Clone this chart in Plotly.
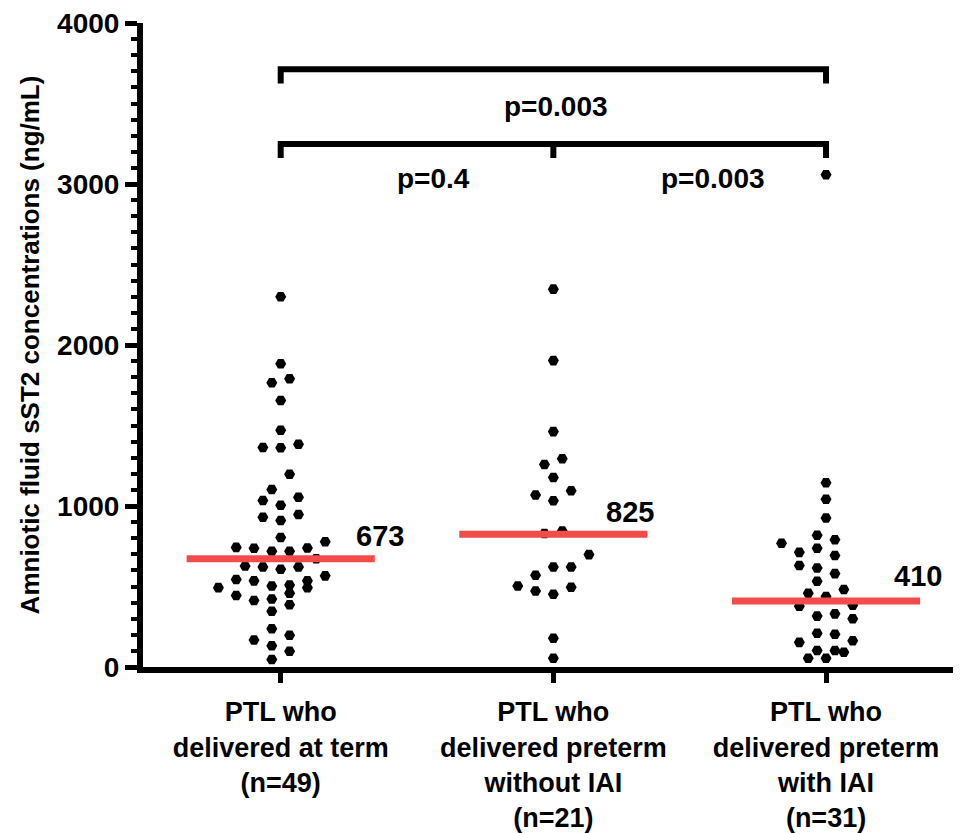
import plotly.graph_objects as go

# ---------------- data ----------------
categories = [
    "PTL who<br>delivered at term<br>(n=49)",
    "PTL who<br>delivered preterm<br>without IAI<br>(n=21)",
    "PTL who<br>delivered preterm<br>with IAI<br>(n=31)",
]
term_values = [2300, 1883, 1791, 1765, 1655, 1470, 1364, 1362, 1384, 1197,
               1103, 1055, 1034, 1004, 947, 910, 930, 804, 778, 739,
               719, 719, 737, 743, 672, 627, 621, 607, 621, 566,
               543, 535, 503, 493, 493, 509, 535, 444, 413, 458,
               423, 387, 346, 238, 197, 132, 167, 98, 47]
preterm_no_iai_values = [2347, 1903, 1462, 1293, 1258, 1177, 1095, 1069, 1032, 845,
                         829, 698, 621, 621, 570, 495, 452, 472, 503, 179, 55]
preterm_iai_values = [3058, 1144, 1042, 926, 818, 769, 790, 712, 692, 737,
                      631, 615, 580, 533, 458, 438, 482, 383, 377, 330,
                      299, 316, 204, 210, 163, 153, 102, 92, 102, 55, 55]
medians = [673, 825, 410]
p_labels = ["p=0.003", "p=0.4", "p=0.003"]
y_ticks = [0, 1000, 2000, 3000, 4000]

groups = [term_values, preterm_no_iai_values, preterm_iai_values]

# ---------------- layout constants ----------------
# the page body has an 8px margin, so the figure is sized to end at the window edge
W, H = 953, 825
ML, MR, MT, MB = 135, 0, 12, 158
X_RANGE = [0.495, 3.495]
Y_RANGE = [0, 4000]
px_per_x = (W - ML - MR) / (X_RANGE[1] - X_RANGE[0])
px_per_y = (H - MT - MB) / (Y_RANGE[1] - Y_RANGE[0])
FONT = "Liberation Sans, Arial, Helvetica, sans-serif"


def row_offsets(vals, bin_size=100, step_px=8.9, d=10.0):
    """Prism-like scatter: values binned into rows, each row centred,
    neighbours two columns apart, lowest values in the middle."""
    bins = {}
    for i, v in enumerate(vals):
        bins.setdefault(int(v // bin_size), []).append(i)
    offs = [0.0] * len(vals)
    placed = []
    for key in sorted(bins):
        idxs = sorted(bins[key], key=lambda i: vals[i])
        n = len(idxs)
        slots = sorted([(k - (n - 1) / 2) * 2 for k in range(n)], key=lambda s: (abs(s), s))
        best = None
        for shift in [0, 1, -1, 2, -2, 3, -3]:
            pts = [((s + shift) * step_px, vals[i] * px_per_y) for i, s in zip(idxs, slots)]
            if all(not (abs(x - px) < d and abs(y - py) < d) for x, y in pts for px, py in placed):
                best = shift
                break
        if best is None:
            best = 0
        for i, s in zip(idxs, slots):
            x = (s + best) * step_px
            placed.append((x, vals[i] * px_per_y))
            offs[i] = x / px_per_x
    return offs


fig = go.Figure()

for gi, vals in enumerate(groups):
    offs = row_offsets(vals)
    fig.add_trace(go.Scatter(
        x=[gi + 1 + o for o in offs], y=vals, mode="markers",
        marker=dict(symbol="hexagon2", size=11, color="black", line=dict(width=0)),
        showlegend=False, hoverinfo="y", cliponaxis=False,
    ))

half = 0.345
for gi, m in enumerate(medians):
    fig.add_trace(go.Scatter(
        x=[gi + 1 - half, gi + 1 + half], y=[m, m], mode="lines",
        line=dict(color="#F34A4A", width=7), showlegend=False, hoverinfo="skip",
    ))

# median labels
label_dx = [0.366, 0.28, 0.338]
label_dy = [140, 137, 157]
for gi, m in enumerate(medians):
    fig.add_annotation(x=gi + 1 + label_dx[gi], y=m + label_dy[gi], text=str(m),
                       showarrow=False, xanchor="center", yanchor="middle",
                       font=dict(family=FONT, size=29, color="black", weight="bold"))

# significance brackets
br_top, br_low, tick_h = 3713, 3249, 88
fig.add_shape(type="path", xref="x", yref="y",
              path=f"M 1,{br_top - tick_h} L 1,{br_top} L 3,{br_top} L 3,{br_top - tick_h}",
              line=dict(color="black", width=6))
fig.add_shape(type="path", xref="x", yref="y",
              path=f"M 1,{br_low - tick_h} L 1,{br_low} L 3,{br_low} L 3,{br_low - tick_h} "
                   f"M 2,{br_low} L 2,{br_low - tick_h}",
              line=dict(color="black", width=6))

p_pos = [(2.01, 3482), (1.56, 3033), (2.587, 3033)]
for (px, py), t in zip(p_pos, p_labels):
    fig.add_annotation(x=px, y=py, text=t, showarrow=False, xanchor="center",
                       yanchor="middle",
                       font=dict(family=FONT, size=28, color="black", weight="bold"))

fig.update_layout(
    width=W, height=H, margin=dict(l=ML, r=MR, t=MT, b=MB, pad=0),
    plot_bgcolor="white", paper_bgcolor="white",
    font=dict(family=FONT, color="black"),
    xaxis=dict(range=X_RANGE, tickvals=[1, 2, 3], ticktext=categories,
               showgrid=False, zeroline=False, showline=True, linecolor="black",
               linewidth=6, ticks="outside", ticklen=10, tickwidth=5, tickcolor="black",
               ticklabelstandoff=6, ticklabeloverflow="allow",
               tickfont=dict(family=FONT, size=27, color="black", weight="bold")),
    yaxis=dict(range=Y_RANGE, tickvals=y_ticks, showgrid=False, zeroline=False,
               showline=True, linecolor="black", linewidth=6, ticks="outside",
               ticklen=12, tickwidth=5, tickcolor="black", ticklabeloverflow="allow",
               tickfont=dict(family=FONT, size=28, color="black", weight="bold"),
               minor=dict(dtick=100, ticks="outside", ticklen=6, tickwidth=4,
                          tickcolor="black", showgrid=False),
               title=dict(text="Amniotic fluid sST2 concentrations (ng/mL)",
                          font=dict(family=FONT, size=26, color="black", weight="bold"),
                          standoff=12)),
)

fig.write_html("out.html")
